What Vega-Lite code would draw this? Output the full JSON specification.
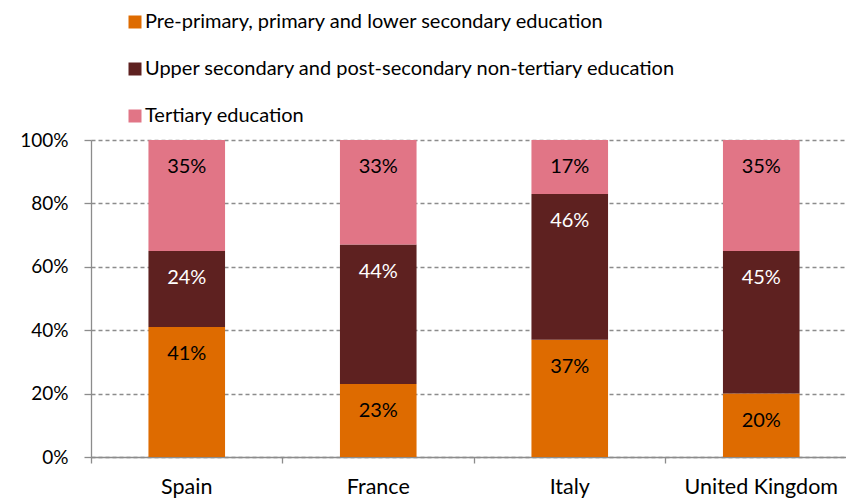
{
  "$schema": "https://vega.github.io/schema/vega-lite/v6.json",
  "width": 755,
  "height": 317,
  "autosize": {"type": "none"},
  "padding": {"left": 91, "top": 140, "right": 0, "bottom": 42},
  "background": "white",
  "config": {
    "font": "Lato",
    "view": {"stroke": null}
  },
  "data": {
    "values": [
      {"country": "Spain", "level": "Pre-primary, primary and lower secondary education", "order": 1, "value": 0.41},
      {"country": "Spain", "level": "Upper secondary and post-secondary non-tertiary education", "order": 2, "value": 0.24},
      {"country": "Spain", "level": "Tertiary education", "order": 3, "value": 0.35},
      {"country": "France", "level": "Pre-primary, primary and lower secondary education", "order": 1, "value": 0.23},
      {"country": "France", "level": "Upper secondary and post-secondary non-tertiary education", "order": 2, "value": 0.44},
      {"country": "France", "level": "Tertiary education", "order": 3, "value": 0.33},
      {"country": "Italy", "level": "Pre-primary, primary and lower secondary education", "order": 1, "value": 0.37},
      {"country": "Italy", "level": "Upper secondary and post-secondary non-tertiary education", "order": 2, "value": 0.46},
      {"country": "Italy", "level": "Tertiary education", "order": 3, "value": 0.17},
      {"country": "United Kingdom", "level": "Pre-primary, primary and lower secondary education", "order": 1, "value": 0.20},
      {"country": "United Kingdom", "level": "Upper secondary and post-secondary non-tertiary education", "order": 2, "value": 0.45},
      {"country": "United Kingdom", "level": "Tertiary education", "order": 3, "value": 0.35}
    ]
  },
  "transform": [
    {"stack": "value", "groupby": ["country"], "sort": [{"field": "order"}], "as": ["y0", "y1"]}
  ],
  "encoding": {
    "x": {
      "field": "country",
      "type": "nominal",
      "sort": ["Spain", "France", "Italy", "United Kingdom"],
      "scale": {"range": [0, 766], "paddingInner": 0, "paddingOuter": 0},
      "axis": {
        "title": null,
        "labelAngle": 0,
        "labelFontSize": 21.5,
        "labelColor": "#000000",
        "labelPadding": 13,
        "bandPosition": 0,
        "tickSize": 6,
        "tickColor": "#8c8c8c",
        "tickWidth": 1.3,
        "domainColor": "#8c8c8c",
        "domainWidth": 1.3,
        "grid": false
      }
    }
  },
  "layer": [
    {
      "mark": {"type": "bar", "width": {"band": 0.4}},
      "encoding": {
        "y": {
          "field": "y0",
          "type": "quantitative",
          "scale": {"domain": [0, 1], "nice": false},
          "axis": {
            "title": null,
            "values": [0, 0.2, 0.4, 0.6, 0.8, 1],
            "format": ".0%",
            "labelFontSize": 19,
            "labelColor": "#000000",
            "labelPadding": 16,
            "tickSize": 7,
            "tickColor": "#8c8c8c",
            "tickWidth": 1.3,
            "domainColor": "#8c8c8c",
            "domainWidth": 1.3,
            "grid": true,
            "gridColor": "#8c8c8c",
            "gridWidth": 1.3,
            "gridDash": [4, 3]
          }
        },
        "y2": {"field": "y1"},
        "color": {
          "field": "level",
          "type": "nominal",
          "sort": ["Pre-primary, primary and lower secondary education", "Upper secondary and post-secondary non-tertiary education", "Tertiary education"],
          "scale": {
            "domain": ["Pre-primary, primary and lower secondary education", "Upper secondary and post-secondary non-tertiary education", "Tertiary education"],
            "range": ["#DE6B00", "#5E2120", "#E17586"]
          },
          "legend": {
            "title": null,
            "orient": "none",
            "legendX": 34,
            "legendY": -128,
            "symbolType": "square",
            "symbolSize": 169,
            "symbolStrokeWidth": 0,
            "labelFontSize": 20,
            "labelColor": "#000000",
            "labelOffset": 0,
            "rowPadding": 27,
            "labelLimit": 700
          }
        }
      }
    },
    {
      "mark": {"type": "text", "dy": 27, "fontSize": 20, "baseline": "middle"},
      "encoding": {
        "y": {"field": "y1", "type": "quantitative"},
        "text": {"field": "value", "type": "quantitative", "format": ".0%"},
        "color": {
          "condition": {"test": "datum.order === 2", "value": "#ffffff"},
          "value": "#000000"
        }
      }
    }
  ]
}
